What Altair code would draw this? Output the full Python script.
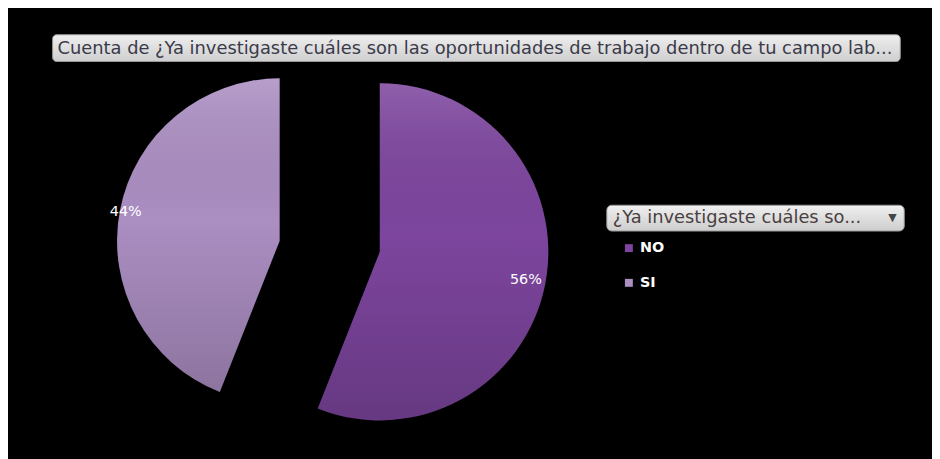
import altair as alt
import pandas as pd

# ---- data ----
categories = ["NO", "SI"]
percent = [56, 44]
chart_title = "Cuenta de ¿Ya investigaste cuáles son las oportunidades de trabajo dentro de tu campo lab..."
legend_title = "¿Ya investigaste cuáles so..."
slice_colors = ["#7d459e", "#ab8ec2"]

df = pd.DataFrame({"cat": categories, "value": percent})
one = pd.DataFrame({"t": [chart_title], "l": [legend_title]})

W, H = 932, 451
# per-slice geometry (view coords): center x, center y, radius, label radius
geom = {"NO": (375, 244, 170, 150), "SI": (274, 233, 164, 158)}

base = (
    alt.Chart(df)
    .transform_window(end="sum(value)", sort=[alt.SortField("cat", order="ascending")])
    .transform_calculate(start="datum.end - datum.value", mid="datum.end - datum.value / 2")
)

theta_scale = alt.Scale(domain=[0, 100], range=[0, 6.283185307])
color_scale = alt.Scale(domain=categories, range=slice_colors)

shade = alt.Gradient(
    gradient="linear", x1=0, y1=0, x2=0, y2=1,
    stops=[alt.GradientStop(color="rgba(255,255,255,0.14)", offset=0),
           alt.GradientStop(color="rgba(0,0,0,0.0)", offset=0.45),
           alt.GradientStop(color="rgba(0,0,0,0.18)", offset=1)],
)

layers = []

# chart title box + text
layers.append(
    alt.Chart(one).mark_rect(
        cornerRadius=4, stroke="#9a9a9a", strokeWidth=1,
        fill=alt.Gradient(gradient="linear", x1=0, y1=0, x2=0, y2=1,
                          stops=[alt.GradientStop(color="#eeeeee", offset=0),
                                 alt.GradientStop(color="#cfcfcf", offset=1)]),
    ).encode(x=alt.value(45), x2=alt.value(900), y=alt.value(25), y2=alt.value(52))
)
layers.append(
    alt.Chart(one).mark_text(
        align="left", baseline="middle", font="DejaVu Sans", fontSize=18, color="#3a3a4a"
    ).encode(x=alt.value(50), y=alt.value(39), text="t:N")
)

# legend title box + text
layers.append(
    alt.Chart(one).mark_rect(
        cornerRadius=5, stroke="#9a9a9a", strokeWidth=1,
        fill=alt.Gradient(gradient="linear", x1=0, y1=0, x2=0, y2=1,
                          stops=[alt.GradientStop(color="#f0f0f0", offset=0),
                                 alt.GradientStop(color="#cdcdcd", offset=1)]),
    ).encode(x=alt.value(604), x2=alt.value(904), y=alt.value(197), y2=alt.value(223))
)
layers.append(
    alt.Chart(one).mark_text(
        align="left", baseline="middle", font="DejaVu Sans", fontSize=18, color="#4a4040"
    ).encode(x=alt.value(610), y=alt.value(210), text="l:N")
)
layers.append(
    alt.Chart(one).mark_text(
        align="center", baseline="middle", font="DejaVu Sans", fontSize=11, color="#444444"
    ).encode(x=alt.value(892), y=alt.value(210), text=alt.value("▼"))
)

for cat in categories:
    cx, cy, r, lr = geom[cat]
    sub = base.transform_filter(alt.datum.cat == cat)
    layers.append(
        sub.mark_arc(radius=r).encode(
            x=alt.value(cx), y=alt.value(cy),
            theta=alt.Theta("start:Q", scale=theta_scale),
            theta2="end:Q",
            color=alt.Color(
                "cat:N", scale=color_scale,
                legend=alt.Legend(
                    title=None, orient="none", legendX=619, legendY=233,
                    symbolType="square", symbolSize=64, symbolStrokeWidth=0,
                    labelColor="white", labelFontWeight="bold", labelFontSize=14.5,
                    labelFont="DejaVu Sans", rowPadding=20, labelOffset=4,
                ),
            ),
        )
    )
    layers.append(
        sub.mark_arc(radius=r, fill=shade).encode(
            x=alt.value(cx), y=alt.value(cy),
            theta=alt.Theta("start:Q", scale=theta_scale),
            theta2="end:Q",
        )
    )
    layers.append(
        sub.mark_text(radius=lr, font="DejaVu Sans", fontSize=14.5, color="white").encode(
            x=alt.value(cx), y=alt.value(cy),
            theta=alt.Theta("mid:Q", scale=theta_scale),
            text=alt.Text("label:N"),
        ).transform_calculate(label="datum.value + '%'")
    )

chart = (
    alt.layer(*layers)
    .properties(width=W, height=H, background="black", padding=0, autosize="none")
    .configure_view(stroke=None)
)

chart.save("out.html", embed_options={"renderer": "svg", "actions": False})
